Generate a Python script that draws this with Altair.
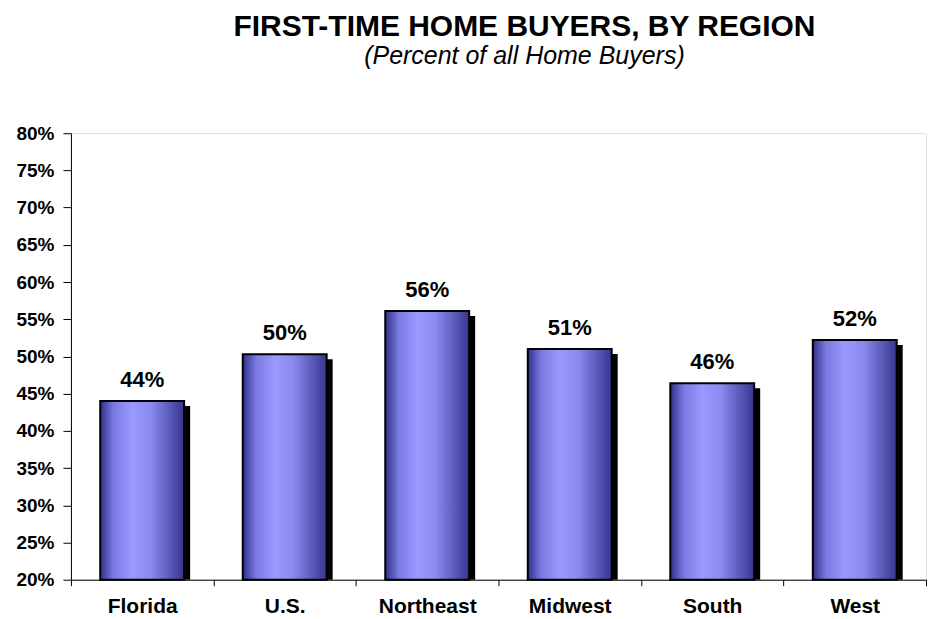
import altair as alt
import pandas as pd

regions = ["Florida", "U.S.", "Northeast", "Midwest", "South", "West"]
values = [44.0, 50.3, 56.1, 51.0, 46.4, 52.2]
labels = ["44%", "50%", "56%", "51%", "46%", "52%"]

df = pd.DataFrame({"region": regions, "value": values, "label": labels})

FONT = "Liberation Sans"

x_enc = alt.X("region:N", sort=regions, title=None,
              scale=alt.Scale(paddingInner=0, paddingOuter=0),
              axis=alt.Axis(labelAngle=0, labelFont=FONT, labelFontSize=21,
                            labelFontWeight="bold", labelColor="black",
                            labelPadding=10, tickBand="extent", tickSize=6,
                            tickColor="black", domainColor="black",
                            ticks=True, grid=False))
y_enc = alt.Y("value:Q", title=None,
              scale=alt.Scale(domain=[20, 80], nice=False, zero=False),
              axis=alt.Axis(values=list(range(20, 81, 5)),
                            labelExpr="datum.value + '%'",
                            labelFont=FONT, labelFontSize=19,
                            labelFontWeight="bold", labelColor="black",
                            labelPadding=9, tickSize=8, tickColor="black",
                            domainColor="black", grid=False))

base = alt.Chart(df)

shadow = base.mark_bar(color="black", size=84, xOffset=6, yOffset=5).encode(
    x=x_enc, y=y_enc, y2=alt.datum(20)
)

grad = alt.Gradient(
    gradient="linear",
    stops=[
        alt.GradientStop(color="#30308a", offset=0),
        alt.GradientStop(color="#7a7ae2", offset=0.16),
        alt.GradientStop(color="#9999ff", offset=0.38),
        alt.GradientStop(color="#8a8af0", offset=0.6),
        alt.GradientStop(color="#36368f", offset=1),
    ],
    x1=0, x2=1, y1=0, y2=0,
)

bars = base.mark_bar(color=grad, size=84, stroke="black", strokeWidth=2).encode(
    x=x_enc, y=y_enc, y2=alt.datum(20)
)

text = base.mark_text(font=FONT, fontSize=22, fontWeight="bold",
                      baseline="alphabetic", dy=-14, color="black").encode(
    x=x_enc, y=y_enc, text="label:N"
)

chart = alt.layer(shadow, bars, text).properties(
    width=856, height=447,
    padding={"left": 7, "top": 4, "right": 0, "bottom": 0},
    title=alt.TitleParams(
        text="FIRST-TIME HOME BUYERS, BY REGION",
        subtitle="(Percent of all Home Buyers)",
        font=FONT, fontSize=30, fontWeight="bold", color="black",
        subtitleFont=FONT, subtitleFontSize=25, subtitleFontStyle="italic",
        subtitleColor="black", subtitlePadding=2,
        anchor="middle", dx=26, offset=55,
    ),
).configure_view(stroke=None).configure(background="white")

chart.save("out.html", embed_options={"renderer": "svg", "actions": False})
